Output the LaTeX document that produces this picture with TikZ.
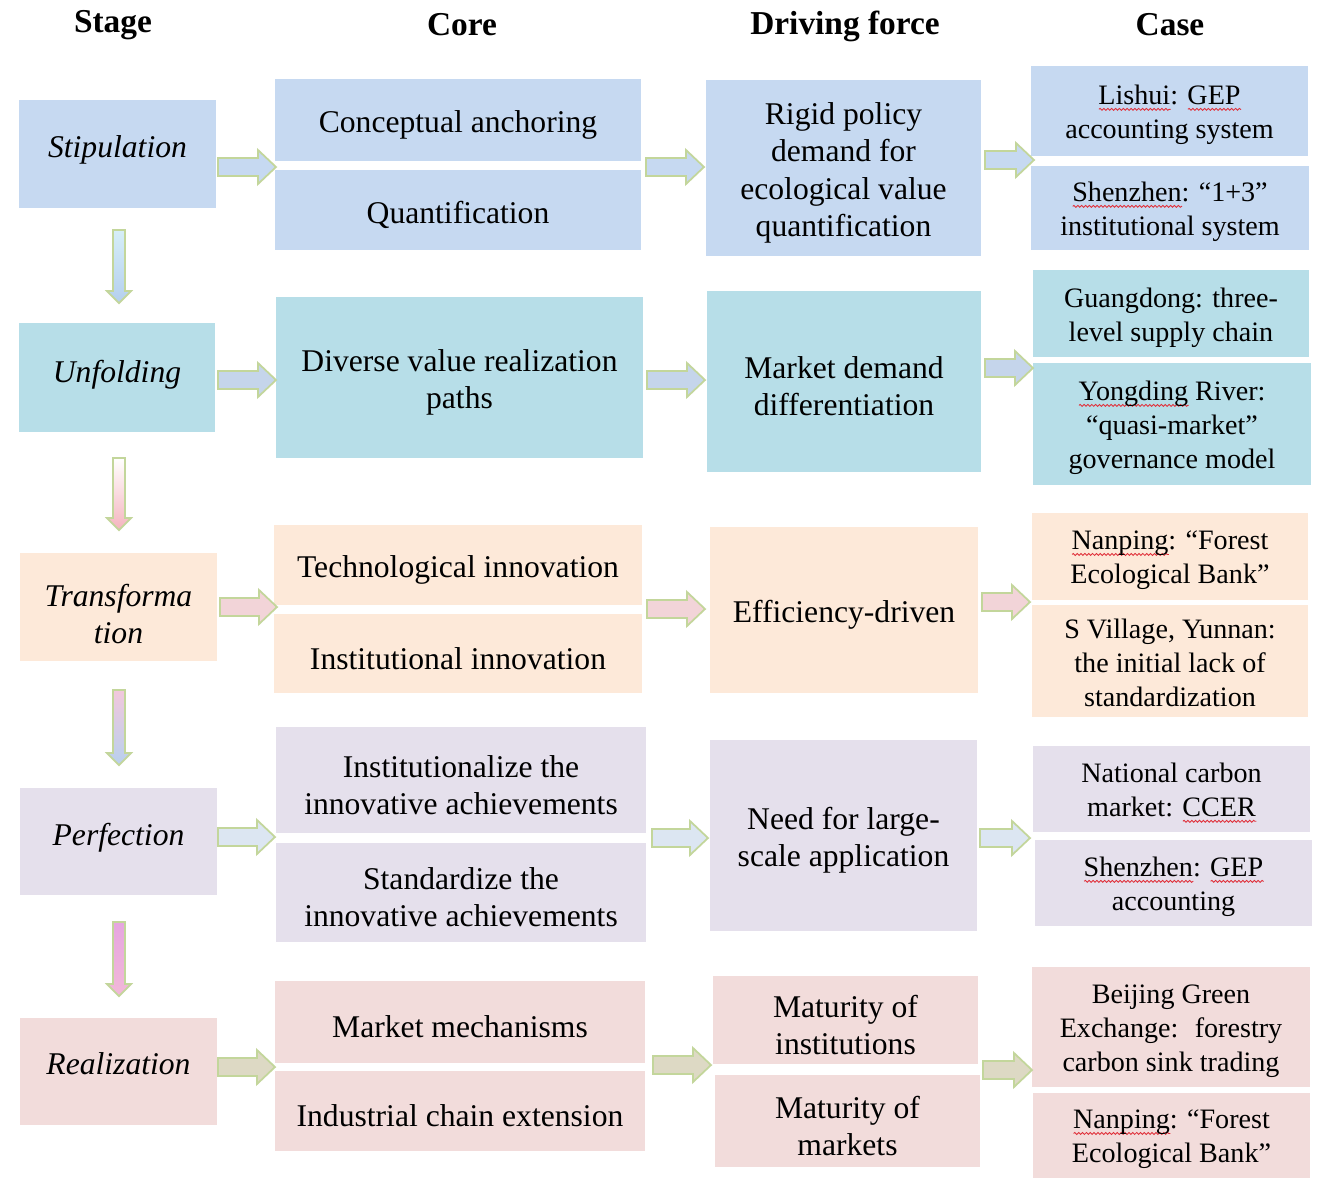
\documentclass[tikz,border=0pt]{standalone}
\usepackage{fontspec}
\setmainfont{Liberation Serif}
\usetikzlibrary{decorations.pathmorphing}
\definecolor{cblue}{HTML}{C6D9F1}
\definecolor{cteal}{HTML}{B7DEE8}
\definecolor{corange}{HTML}{FDE9D9}
\definecolor{cpurple}{HTML}{E5E0EC}
\definecolor{cred}{HTML}{F2DCDB}
\definecolor{arrline}{HTML}{C3D69B}
\definecolor{spell}{HTML}{E0303A}
\definecolor{ablue}{HTML}{C6D9F1}
\definecolor{ateal}{HTML}{C5D5EB}
\definecolor{apink}{HTML}{F2D4D8}
\definecolor{alav}{HTML}{DCE6F2}
\definecolor{abeige}{HTML}{DDD9C4}
\definecolor{va1}{HTML}{D6EEF8}
\definecolor{vb1}{HTML}{B4CFEE}
\definecolor{va2}{HTML}{FFFFFF}
\definecolor{vb2}{HTML}{F4B4BE}
\definecolor{va3}{HTML}{F2C8DC}
\definecolor{vb3}{HTML}{B8D0EE}
\definecolor{va4}{HTML}{E6A6E0}
\definecolor{vb4}{HTML}{F2B8D8}
\newsavebox\sqbox
\newcommand\sq[1]{\sbox\sqbox{#1}\rlap{\raisebox{-3.4pt}{\tikz\draw[draw=spell, fill=none, line width=0.5pt, decorate, decoration={snake,amplitude=0.55pt,segment length=2.2pt}] (0pt,0pt) -- (\wd\sqbox,0pt);}}\usebox\sqbox}
\tikzset{
  boxs/.style={inner sep=0pt, draw=none},
  bx/.style={inner sep=0pt, align=center, font=\fontsize{18}{21.2}\selectfont, yshift=-0.1cm},
  cbx/.style={bx, font=\fontsize{16}{19.3}\selectfont, yshift=0.02cm},
  sbx/.style={inner sep=0pt, align=center, font=\fontsize{18}{21.2}\selectfont\itshape},
  hdr/.style={font=\fontsize{19}{22}\selectfont\bfseries},
  arr/.style={draw=arrline, line width=1pt, line join=miter}
}
% name, x1, y1, x2, y2, fill, text style, text
\newcommand\bx[8]{\node[boxs,fill=#6,minimum width={(#4-#2)*0.02cm},minimum height={(#5-#3)*0.02cm}] (#1) at ({(#2+#4)/2},{(#3+#5)/2}) {};
  \node[#7] (#1t) at (#1.center) {#8};}
% horizontal block arrow: tail x, tip x, y, fill
\newcommand\harr[4]{\filldraw[arr,fill=#4] ({#1},{#3-9}) -- ({#2-18},{#3-9}) -- ({#2-18},{#3-17}) -- ({#2},{#3}) -- ({#2-18},{#3+17}) -- ({#2-18},{#3+9}) -- ({#1},{#3+9}) -- cycle;}
% vertical block arrow: x, top y, tip y, top colour, bottom colour
\newcommand\varr[5]{\draw[arr,top color=#4,bottom color=#5] ({#1-6},{#2}) -- ({#1+6},{#2}) -- ({#1+6},{#3-12}) -- ({#1+12},{#3-12}) -- ({#1},{#3}) -- ({#1-12},{#3-12}) -- ({#1-6},{#3-12}) -- cycle;}
\begin{document}
\begin{tikzpicture}[x=0.02cm,y=-0.02cm]
\useasboundingbox[fill=white] (0,0) rectangle (1325,1184);
% headers
\node[hdr] (h1) at (113,25) {Stage};
\node[hdr] (h2) at (462,25) {Core};
\node[hdr] (h3) at (845,26) {Driving force};
\node[hdr] (h4) at (1170,25) {Case};
% row 1
\bx{s1}{19}{100}{216}{208}{cblue}{sbx,yshift=0.08cm}{Stipulation}
\bx{c1a}{275}{79}{641}{161}{cblue}{bx}{Conceptual anchoring}
\bx{c1b}{275}{170}{641}{250}{cblue}{bx}{Quantification}
\bx{d1}{706}{80}{981}{256}{cblue}{bx}{Rigid policy\\demand for\\ecological value\\quantification}
\bx{e1a}{1031}{66}{1308}{156}{cblue}{cbx}{\sq{Lishui}: \sq{GEP}\\accounting system}
\bx{e1b}{1031}{166}{1309}{250}{cblue}{cbx}{\sq{Shenzhen}: “1+3”\\institutional system}
% row 2
\bx{s2}{19}{323}{215}{432}{cteal}{sbx,yshift=0.06cm}{Unfolding}
\bx{c2}{276}{297}{643}{458}{cteal}{bx}{Diverse value realization\\paths}
\bx{d2}{707}{291}{981}{472}{cteal}{bx}{Market demand\\differentiation}
\bx{e2a}{1033}{270}{1309}{357}{cteal}{cbx}{Guangdong: three-\\level supply chain}
\bx{e2b}{1033}{363}{1311}{485}{cteal}{cbx}{\sq{Yongding} River:\\“quasi-market”\\governance model}
% row 3
\bx{s3}{20}{553}{217}{661}{corange}{sbx,yshift=-0.14cm}{Transforma\\tion}
\bx{c3a}{274}{525}{642}{605}{corange}{bx}{Technological innovation}
\bx{c3b}{274}{614}{642}{693}{corange}{bx}{Institutional innovation}
\bx{d3}{710}{527}{978}{693}{corange}{bx}{Efficiency-driven}
\bx{e3a}{1032}{513}{1308}{600}{corange}{cbx}{\sq{Nanping}: “Forest\\Ecological Bank”}
\bx{e3b}{1032}{605}{1308}{717}{corange}{cbx,yshift=0.04cm}{S Village, Yunnan:\\the initial lack of\\standardization}
% row 4
\bx{s4}{20}{788}{217}{895}{cpurple}{sbx,yshift=0.08cm}{Perfection}
\bx{c4a}{276}{727}{646}{833}{cpurple}{bx}{Institutionalize the\\innovative achievements}
\bx{c4b}{276}{843}{646}{942}{cpurple}{bx}{Standardize the\\innovative achievements}
\bx{d4}{710}{740}{977}{931}{cpurple}{bx}{Need for large-\\scale application}
\bx{e4a}{1033}{746}{1310}{832}{cpurple}{cbx}{National carbon\\market: \sq{CCER}}
\bx{e4b}{1035}{840}{1312}{926}{cpurple}{cbx}{\sq{Shenzhen}: \sq{GEP}\\accounting}
% row 5
\bx{s5}{20}{1018}{217}{1125}{cred}{sbx,yshift=0.16cm}{Realization}
\bx{c5a}{275}{981}{645}{1063}{cred}{bx}{Market mechanisms}
\bx{c5b}{275}{1071}{645}{1151}{cred}{bx}{Industrial chain extension}
\bx{d5a}{713}{976}{978}{1064}{cred}{bx}{Maturity of\\institutions}
\bx{d5b}{715}{1075}{980}{1167}{cred}{bx}{Maturity of\\markets}
\bx{e5a}{1032}{967}{1310}{1087}{cred}{cbx}{Beijing Green\\Exchange:~ forestry\\carbon sink trading}
\bx{e5b}{1033}{1093}{1310}{1178}{cred}{cbx}{\sq{Nanping}: “Forest\\Ecological Bank”}
% horizontal arrows
\harr{218}{276}{167}{ablue}
\harr{646}{704}{167}{ablue}
\harr{985}{1034}{160}{ablue}
\harr{218}{276}{380}{ateal}
\harr{647}{705}{380}{ateal}
\harr{985}{1033}{368}{ateal}
\harr{220}{277}{607}{apink}
\harr{647}{705}{609}{apink}
\harr{982}{1030}{602}{apink}
\harr{218}{275}{837}{alav}
\harr{652}{708}{838}{alav}
\harr{980}{1030}{838}{alav}
\harr{218}{275}{1067}{abeige}
\harr{653}{711}{1065}{abeige}
\harr{983}{1032}{1070}{abeige}
% vertical arrows
\varr{119}{230}{303}{va1}{vb1}
\varr{119}{458}{530}{va2}{vb2}
\varr{119}{690}{765}{va3}{vb3}
\varr{119}{922}{996}{va4}{vb4}
\end{tikzpicture}
\end{document}
